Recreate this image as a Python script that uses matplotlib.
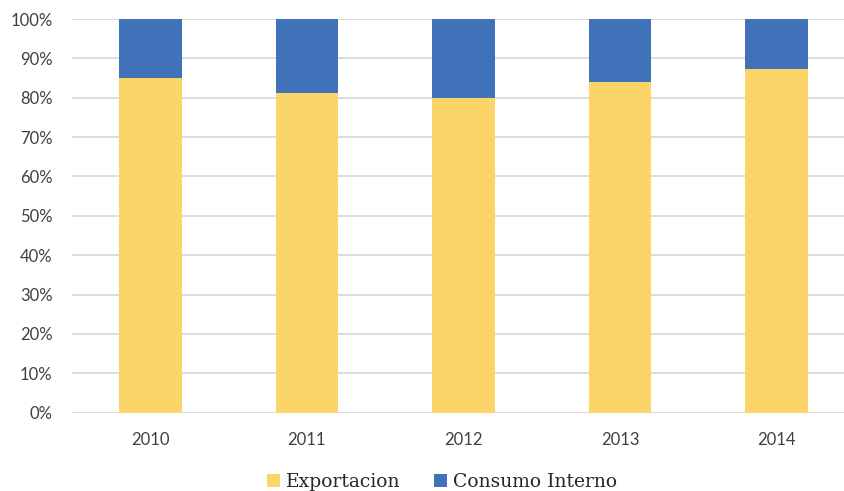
import matplotlib
matplotlib.use("Agg")
import matplotlib.pyplot as plt
from matplotlib.ticker import PercentFormatter

# share of production, %
years = ["2010", "2011", "2012", "2013", "2014"]
exportacion = [84.9, 81.3, 79.9, 84.0, 87.2]
consumo_interno = [100 - v for v in exportacion]

yellow = "#FBD46A"
blue = "#3F72B9"

fig = plt.figure(figsize=(8.44, 4.91), dpi=100)
W, H = 844, 491
ax = fig.add_axes([72 / W, (H - 412.7) / H, (855 - 72) / W, (412.7 - 19) / H])

x = range(len(years))
ax.bar(x, exportacion, width=0.40, color=yellow, label="Exportacion", zorder=2)
ax.bar(x, consumo_interno, width=0.40, bottom=exportacion, color=blue,
       label="Consumo Interno", zorder=2)

ax.set_xlim(-0.5, len(years) - 0.5)
ax.set_ylim(0, 100)
ax.set_yticks(range(0, 101, 10))
ax.yaxis.set_major_formatter(PercentFormatter(decimals=0))
ax.set_xticks(list(x))
ax.set_xticklabels(years)
ax.grid(axis="y", color="#d9d9d9", linewidth=1.3, zorder=0)
ax.tick_params(length=0, labelsize=12, labelcolor="#404040")
ax.tick_params(axis="x", pad=14)
ax.tick_params(axis="y", pad=14)
for lab in ax.get_xticklabels() + ax.get_yticklabels():
    lab.set_family("Lato")
for s in ax.spines.values():
    s.set_visible(False)

leg = fig.legend(loc="center", bbox_to_anchor=(442 / W, 1 - 482 / H), ncol=2,
                 frameon=False, handlelength=0.7, handleheight=0.7,
                 handletextpad=0.3, columnspacing=1.8,
                 prop={"family": "DejaVu Serif", "size": 13.5})
for t in leg.get_texts():
    t.set_color("#262626")

fig.savefig("out.png", dpi=100)
